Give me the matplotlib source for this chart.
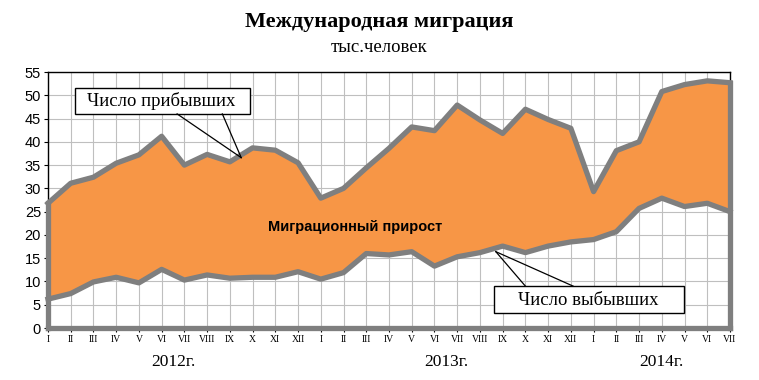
import matplotlib
matplotlib.use("Agg")
from matplotlib import pyplot as plt
from matplotlib.patches import Rectangle

# months: I 2012 .. VII 2014
month_labels = ["I", "II", "III", "IV", "V", "VI", "VII", "VIII", "IX", "X", "XI", "XII"] * 2 + \
    ["I", "II", "III", "IV", "V", "VI", "VII"]
arrived = [26.8, 31.1, 32.4, 35.4, 37.2, 41.2, 35.0, 37.3, 35.7, 38.7, 38.2, 35.5,
           27.9, 30.0, 34.4, 38.6, 43.2, 42.4, 47.9, 44.7, 41.8, 47.0, 44.8, 42.9,
           29.3, 38.1, 40.0, 50.8, 52.3, 53.1, 52.7]
departed = [6.2, 7.4, 9.9, 10.9, 9.7, 12.6, 10.3, 11.4, 10.7, 10.9, 10.9, 12.1,
            10.5, 11.9, 16.0, 15.7, 16.4, 13.3, 15.3, 16.2, 17.6, 16.2, 17.6, 18.5,
            19.0, 20.7, 25.7, 27.9, 26.1, 26.8, 25.0]
years = ["2012г.", "2013г.", "2014г."]
year_pos = [5.5, 17.5, 27.0]

ORANGE = "#F79646"
GRAY = "#7F7F7F"
serif = ["Liberation Serif", "DejaVu Serif"]
sans = ["Liberation Sans", "DejaVu Sans"]

fig = plt.figure(figsize=(7.59, 3.80), dpi=100)
ax = fig.add_axes([0.0632, 0.1368, 0.8986, 0.6737])
x = list(range(len(arrived)))

ax.fill_between(x, departed, arrived, color=ORANGE, lw=0, zorder=2)
ax.plot(x, arrived, color=GRAY, lw=3.8, solid_joinstyle="round", zorder=3, clip_on=False)
ax.plot(x, departed, color=GRAY, lw=3.8, solid_joinstyle="round", zorder=3, clip_on=False)
ax.plot([0, 0], [0, arrived[0]], color=GRAY, lw=3.8, zorder=3, clip_on=False)
ax.plot([x[-1], x[-1]], [0, arrived[-1]], color=GRAY, lw=3.8, zorder=3, clip_on=False)
ax.plot([0, x[-1]], [0, 0], color=GRAY, lw=3.8, zorder=3, clip_on=False)

ax.set_xlim(0, x[-1])
ax.set_ylim(0, 55)
ax.set_yticks(range(0, 56, 5))
ax.set_xticks(x)
ax.set_xticklabels(month_labels, family=serif, fontsize=7)
ax.tick_params(axis="y", labelsize=10.5, length=3, pad=2)
ax.tick_params(axis="x", length=3, pad=2)
for lbl in ax.get_yticklabels():
    lbl.set_family(sans)
ax.grid(True, color="#BFBFBF", lw=0.8, zorder=0)
ax.set_axisbelow(True)
for s in ax.spines.values():
    s.set_color("black")
    s.set_linewidth(1)

for yr, xp in zip(years, year_pos):
    ax.text(xp, -7.4, yr, ha="center", va="center", family=serif, fontsize=12.5)

ax.text(13.5, 21.8, "Миграционный прирост", ha="center", va="center",
        family=sans, fontsize=10.5, fontweight="bold", zorder=5)

# callouts
ax.add_patch(Rectangle((1.19, 46.0), 7.71, 5.6, fc="white", ec="black", lw=1, zorder=6))
ax.text(5.0, 48.7, "Число прибывших", ha="center", va="center", family=serif,
        fontsize=13.5, zorder=7)
for xs in (5.68, 7.67):
    ax.plot([xs, 8.5], [46.0, 36.6], color="black", lw=0.9, zorder=6)

ax.add_patch(Rectangle((19.6, 3.2), 8.37, 5.8, fc="white", ec="black", lw=1, zorder=6))
ax.text(23.75, 6.0, "Число выбывших", ha="center", va="center", family=serif,
        fontsize=13.5, zorder=7)
for xs in (21.0, 23.1):
    ax.plot([xs, 19.7], [9.0, 16.4], color="black", lw=0.9, zorder=6)

fig.text(0.5, 0.942, "Международная миграция", ha="center", va="center",
         family=serif, fontsize=16, fontweight="bold")
fig.text(0.5, 0.876, "тыс.человек", ha="center", va="center", family=serif, fontsize=13.5)

fig.savefig("out.png", dpi=100)
